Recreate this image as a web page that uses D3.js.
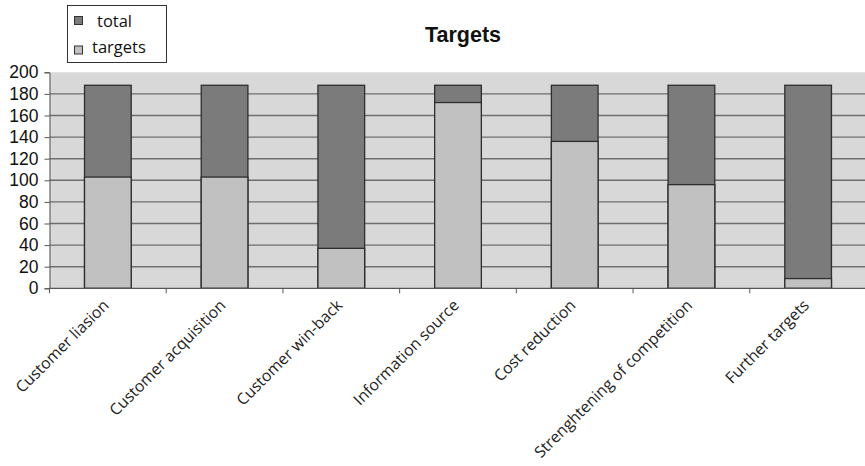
<!DOCTYPE html>
<html>
<head>
<meta charset="utf-8">
<script src="https://cdn.jsdelivr.net/npm/d3@7"></script>
<style>
  html, body { margin: 0; padding: 0; background: #fff; }
  svg { display: block; }
</style>
</head>
<body>
<svg id="chart" width="865" height="466"></svg>
<script>
// Categories and series values
const categories = [
  "Customer liasion",
  "Customer acquisition",
  "Customer win-back",
  "Information source",
  "Cost reduction",
  "Strenghtening of competition",
  "Further targets"
];
const totalValues = [188, 188, 188, 188, 188, 188, 188];
const targetValues = [103, 103, 37, 172, 136, 96, 9];
const yTicks = [0, 20, 40, 60, 80, 100, 120, 140, 160, 180, 200];
const seriesNames = ["total", "targets"];

const colors = { total: "#7b7b7b", targets: "#c1c1c1" };

const svg = d3.select("#chart");
const margin = { left: 49.5, top: 72.3, bottom: 288.3 };
const plotRight = 866.5;

const x = d3.scaleBand()
  .domain(categories)
  .range([margin.left, plotRight])
  .paddingInner(0.6)
  .paddingOuter(0.3);

const y = d3.scaleLinear()
  .domain([0, 200])
  .range([margin.bottom, margin.top]);

// Plot area background
svg.append("rect")
  .attr("x", margin.left)
  .attr("y", y(200))
  .attr("width", plotRight - margin.left)
  .attr("height", y(0) - y(200))
  .attr("fill", "#d8d8d8");

// Horizontal gridlines
svg.append("g")
  .selectAll("line")
  .data(yTicks.filter(v => v > 0 && v < 200))
  .join("line")
  .attr("x1", margin.left)
  .attr("x2", plotRight)
  .attr("y1", d => y(d))
  .attr("y2", d => y(d))
  .attr("stroke", "#6e6e6e")
  .attr("stroke-width", 1.4);

// Total bars (full height)
svg.append("g")
  .selectAll("rect")
  .data(categories)
  .join("rect")
  .attr("x", d => x(d))
  .attr("width", x.bandwidth())
  .attr("y", (d, i) => y(totalValues[i]))
  .attr("height", (d, i) => y(0) - y(totalValues[i]))
  .attr("fill", colors.total)
  .attr("stroke", "#2e2e2e")
  .attr("stroke-width", 1.3);

// Target bars overlaid
svg.append("g")
  .selectAll("rect")
  .data(categories)
  .join("rect")
  .attr("x", d => x(d))
  .attr("width", x.bandwidth())
  .attr("y", (d, i) => y(targetValues[i]))
  .attr("height", (d, i) => y(0) - y(targetValues[i]))
  .attr("fill", colors.targets)
  .attr("stroke", "#2e2e2e")
  .attr("stroke-width", 1.3);

// Y axis
const yAxis = d3.axisLeft(y).tickValues(yTicks).tickSize(5).tickPadding(6);
const gy = svg.append("g")
  .attr("transform", `translate(${margin.left},0)`)
  .call(yAxis);
gy.select(".domain").attr("stroke", "#555").attr("stroke-width", 1);
gy.selectAll(".tick line").attr("stroke", "#555");
gy.selectAll(".tick text")
  .attr("font-family", "Liberation Sans, Arial, sans-serif")
  .attr("font-size", 17.5)
  .attr("fill", "#111");

// X axis: ticks at category boundaries
const bounds = d3.range(categories.length + 1).map(i => margin.left + i * (plotRight - margin.left) / categories.length);
const gx = svg.append("g");
gx.append("line")
  .attr("x1", margin.left).attr("x2", plotRight)
  .attr("y1", y(0)).attr("y2", y(0))
  .attr("stroke", "#555").attr("stroke-width", 1.2);
gx.selectAll("line.tk")
  .data(bounds)
  .join("line")
  .attr("class", "tk")
  .attr("x1", d => d).attr("x2", d => d)
  .attr("y1", y(0)).attr("y2", y(0) + 5)
  .attr("stroke", "#555");

// Rotated category labels
gx.selectAll("text")
  .data(categories)
  .join("text")
  .attr("transform", d => `translate(${x(d) + x.bandwidth() / 2 + 2},${y(0) + 18}) rotate(-45)`)
  .attr("text-anchor", "end")
  .attr("font-family", "Open Sans, sans-serif")
  .attr("font-size", 15.8)
  .attr("fill", "#222")
  .text(d => d);

// Title
svg.append("text")
  .attr("x", 463)
  .attr("y", 42)
  .attr("text-anchor", "middle")
  .attr("font-family", "Liberation Sans, Arial, sans-serif")
  .attr("font-weight", "bold")
  .attr("font-size", 21.5)
  .attr("fill", "#111")
  .text("Targets");

// Legend
const legend = svg.append("g");
legend.append("rect")
  .attr("x", 67.5).attr("y", 5.5)
  .attr("width", 99).attr("height", 57)
  .attr("fill", "#fff")
  .attr("stroke", "#333")
  .attr("stroke-width", 1);
const legendItems = legend.selectAll("g.item")
  .data(seriesNames)
  .join("g")
  .attr("class", "item");
legendItems.append("rect")
  .attr("x", 74.5)
  .attr("y", (d, i) => 16.5 + i * 29.5)
  .attr("width", 8).attr("height", 8)
  .attr("fill", d => colors[d])
  .attr("stroke", "#333");
legendItems.append("text")
  .attr("x", (d, i) => i === 0 ? 97 : 92)
  .attr("y", (d, i) => 27 + i * 26)
  .attr("font-family", "Open Sans, sans-serif")
  .attr("font-size", 16.5)
  .attr("fill", "#111")
  .text(d => d);
</script>
</body>
</html>
